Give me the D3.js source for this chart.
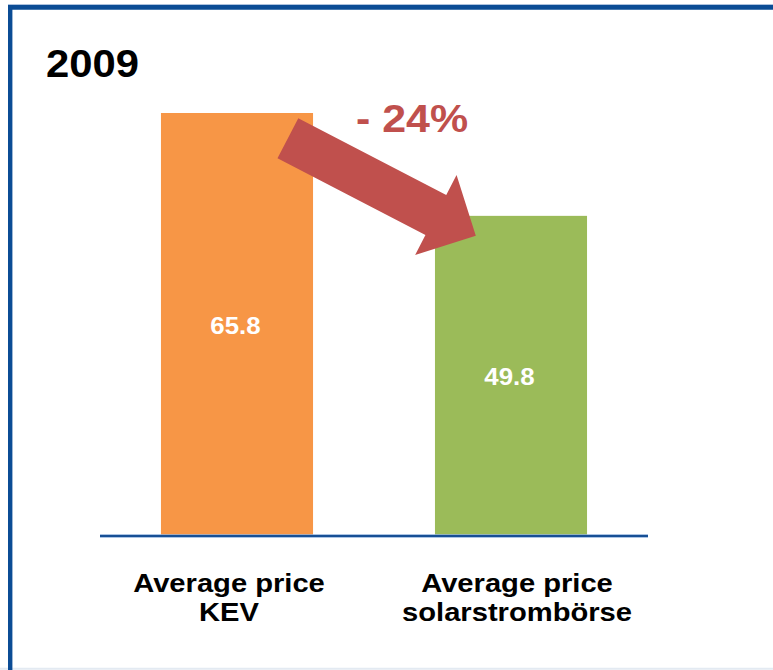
<!DOCTYPE html>
<html>
<head>
<meta charset="utf-8">
<script src="https://cdn.jsdelivr.net/npm/d3@7"></script>
<style>
  html, body { margin: 0; padding: 0; background: #fff; }
  svg { display: block; font-family: "Liberation Sans", Arial, sans-serif; }
</style>
</head>
<body>
<svg id="chart" width="773" height="670"></svg>
<script>
// ---- data ----
const categories = ["Average price KEV", "Average price solarstrombörse"];
const categoryLines = [["Average price", "KEV"], ["Average price", "solarstrombörse"]];
const values = [65.8, 49.8];
const valueLabels = ["65.8", "49.8"];
const barColors = ["#F79646", "#9BBB59"];
const title = "2009";
const changeLabel = "- 24%";

const svg = d3.select("#chart");
const W = 773, H = 670;
const SX = 1.1; // horizontal stretch of the reference text

// frame
svg.append("line").attr("x1", 0).attr("x2", W).attr("y1", 668.8).attr("y2", 668.8)
  .attr("stroke", "#E3EAF2").attr("stroke-width", 2);
svg.append("line").attr("x1", 8).attr("x2", W).attr("y1", 4.8).attr("y2", 4.8)
  .attr("stroke", "#8AA8D0").attr("stroke-width", 1);
svg.append("line").attr("x1", 8).attr("x2", W).attr("y1", 7.4).attr("y2", 7.4)
  .attr("stroke", "#0B4C95").attr("stroke-width", 4.6);
svg.append("line").attr("x1", 10.2).attr("x2", 10.2).attr("y1", 5).attr("y2", H)
  .attr("stroke", "#0B4C95").attr("stroke-width", 4.4);

// scales
const x = d3.scaleBand().domain(categories).range([100, 648])
  .paddingInner(0.445).paddingOuter(0.2225);
const y = d3.scaleLinear().domain([0, 65.8]).range([536, 113]);
const xLabel = d3.scalePoint().domain(categories).range([85, 661]).padding(0.5);

// bars
svg.selectAll("rect.bar").data(values).join("rect")
  .attr("class", "bar")
  .attr("x", (d, i) => x(categories[i]))
  .attr("width", x.bandwidth())
  .attr("y", d => y(d))
  .attr("height", d => y(0) - y(d))
  .attr("fill", (d, i) => barColors[i]);

// axis baseline
svg.append("line").attr("x1", x.range()[0]).attr("x2", x.range()[1])
  .attr("y1", y(0)).attr("y2", y(0))
  .attr("stroke", "#8FB1DB").attr("stroke-width", 3.4);
svg.append("line").attr("x1", x.range()[0]).attr("x2", x.range()[1])
  .attr("y1", y(0)).attr("y2", y(0))
  .attr("stroke", "#174F95").attr("stroke-width", 1.8);

function stretchedText(px, py, txt, size, color) {
  return svg.append("text")
    .attr("transform", `translate(${px},${py}) scale(${SX},1)`)
    .attr("text-anchor", "middle")
    .attr("font-weight", "bold")
    .attr("font-size", size)
    .attr("fill", color)
    .text(txt);
}

// value labels
values.forEach((v, i) => {
  const cx = x(categories[i]) + x.bandwidth() / 2;
  const cy = (y(v) + y(0)) / 2;
  stretchedText(cx - 1.5, cy + 9, valueLabels[i], 23.5, "#FFFFFF");
});

// category labels
categoryLines.forEach((lines, i) => {
  lines.forEach((ln, j) => {
    stretchedText(xLabel(categories[i]), 591.5 + j * 29.5, ln, 26.5, "#000000");
  });
});

// title
svg.append("text")
  .attr("transform", `translate(46,76.7) scale(${SX},1)`)
  .attr("font-weight", "bold").attr("font-size", 38).attr("fill", "#000")
  .text(title);

// change annotation arrow
const arrowFrom = [287.9, 138.3], arrowTo = [475.8, 235.7];
const headLen = 45, headHalf = 45, shaftHalf = 22.6;
const dx = arrowTo[0] - arrowFrom[0], dy = arrowTo[1] - arrowFrom[1];
const len = Math.hypot(dx, dy);
const angle = Math.atan2(dy, dx) * 180 / Math.PI;
const localPts = [
  [0, -shaftHalf], [len - headLen, -shaftHalf], [len - headLen, -headHalf],
  [len, 0], [len - headLen, headHalf], [len - headLen, shaftHalf], [0, shaftHalf]
];
svg.append("path")
  .attr("transform", `translate(${arrowFrom[0]},${arrowFrom[1]}) rotate(${angle})`)
  .attr("d", d3.line()(localPts) + "Z")
  .attr("fill", "#C0504D");

// change label
svg.append("text")
  .attr("transform", `translate(356,132.3) scale(${SX},1)`)
  .attr("font-weight", "bold").attr("font-size", 39).attr("fill", "#C0504D")
  .text(changeLabel);
</script>
</body>
</html>
